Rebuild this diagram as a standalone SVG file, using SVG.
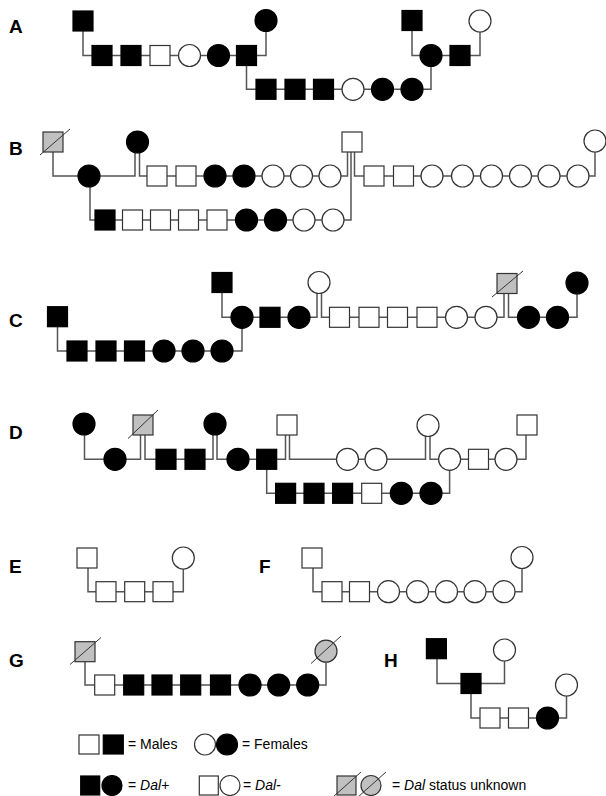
<svg xmlns="http://www.w3.org/2000/svg" width="606" height="796" viewBox="0 0 606 796">
<style>
.c{fill:none;stroke:#555;stroke-width:1.5}
.s{stroke:#333;stroke-width:1.2}
.k{fill:#000;stroke:#000}
.w{fill:#fff}
.g{fill:#c0c0c0}
.sl{stroke:#333;stroke-width:1}
.lbl{font-family:"Liberation Sans",Arial,sans-serif;font-weight:bold;font-size:19px;fill:#000}
.leg{font-family:"Liberation Sans",Arial,sans-serif;font-size:14px;fill:#000}
</style>
<rect width="606" height="796" fill="#fff"/>
<g id="labels">
<text class="lbl" x="9" y="33">A</text>
<text class="lbl" x="9" y="155">B</text>
<text class="lbl" x="9" y="327">C</text>
<text class="lbl" x="9" y="439">D</text>
<text class="lbl" x="9" y="573">E</text>
<text class="lbl" x="259" y="573">F</text>
<text class="lbl" x="9" y="667">G</text>
<text class="lbl" x="384" y="667">H</text>
</g>
<g id="connectors">
<path class="c" d="M83,31V55.5H266V31.5"/>
<path class="c" d="M246.5,65.5V89.3H431V55.5"/>
<path class="c" d="M412,30.5V55.5H480V32"/>
<path class="c" d="M53,152V176H135V153"/>
<path class="c" d="M139.5,153V176H347.5V152"/>
<path class="c" d="M90,187V220H351V152"/>
<path class="c" d="M354.5,152V176H595V152"/>
<path class="c" d="M57.5,326.7V351H242V317.3"/>
<path class="c" d="M222,292.5V317.3H317V293.5"/>
<path class="c" d="M321.5,293.5V317.3H504V293.5"/>
<path class="c" d="M508.5,293.5V317.3H577V294"/>
<path class="c" d="M84.5,435V459.3H140.5V435"/>
<path class="c" d="M145,435V459.3H213V435"/>
<path class="c" d="M217,435V459.3H285.5V435"/>
<path class="c" d="M289.5,435V459.3H425.5V436.5"/>
<path class="c" d="M430,436.5V459.3H526V435"/>
<path class="c" d="M266.7,469.3V493.3H449.6V470"/>
<path class="c" d="M88,568V591.7H183.3V569"/>
<path class="c" d="M313,568V591.7H522V568.5"/>
<path class="c" d="M85,661.7V685H326V662.2"/>
<path class="c" d="M437,658.7V683.5H504.5V661"/>
<path class="c" d="M471,693.5V718H566.5V696"/>
</g>
<g id="pedigree-A">
<g id="A1"><rect class="s k" x="73" y="11" width="20" height="20"/></g>
<g id="A2"><circle class="s k" cx="266" cy="20.5" r="11"/></g>
<g id="A3"><rect class="s k" x="402" y="10.5" width="20" height="20"/></g>
<g id="A4"><circle class="s w" cx="480" cy="21" r="11"/></g>
<g id="A5"><rect class="s k" x="92" y="45.5" width="20" height="20"/></g>
<g id="A6"><rect class="s k" x="121" y="45.5" width="20" height="20"/></g>
<g id="A7"><rect class="s w" x="150" y="45.5" width="20" height="20"/></g>
<g id="A8"><circle class="s w" cx="189.5" cy="55.5" r="11"/></g>
<g id="A9"><circle class="s k" cx="218.5" cy="55.5" r="11"/></g>
<g id="A10"><rect class="s k" x="236.5" y="45.5" width="20" height="20"/></g>
<g id="A11"><circle class="s k" cx="431" cy="55.5" r="11"/></g>
<g id="A12"><rect class="s k" x="450" y="45.5" width="20" height="20"/></g>
<g id="A13"><rect class="s k" x="256" y="79.3" width="20" height="20"/></g>
<g id="A14"><rect class="s k" x="285" y="79.3" width="20" height="20"/></g>
<g id="A15"><rect class="s k" x="313.5" y="79.3" width="20" height="20"/></g>
<g id="A16"><circle class="s w" cx="353" cy="89.3" r="11"/></g>
<g id="A17"><circle class="s k" cx="382.5" cy="89.3" r="11"/></g>
<g id="A18"><circle class="s k" cx="412" cy="89.3" r="11"/></g>
</g>
<g id="pedigree-B">
<g id="B1"><rect class="s g" x="43" y="132" width="20" height="20"/><line class="sl" x1="40" y1="155" x2="70" y2="129"/></g>
<g id="B2"><circle class="s k" cx="137.5" cy="142" r="11"/></g>
<g id="B3"><rect class="s w" x="342" y="132" width="20" height="20"/></g>
<g id="B4"><circle class="s w" cx="595" cy="141" r="11"/></g>
<g id="B5"><circle class="s k" cx="89" cy="176" r="11"/></g>
<g id="B6"><rect class="s w" x="147" y="166" width="20" height="20"/></g>
<g id="B7"><rect class="s w" x="176" y="166" width="20" height="20"/></g>
<g id="B8"><circle class="s k" cx="215" cy="176" r="11"/></g>
<g id="B9"><circle class="s k" cx="244" cy="176" r="11"/></g>
<g id="B10"><circle class="s w" cx="273" cy="176" r="11"/></g>
<g id="B11"><circle class="s w" cx="301.5" cy="176" r="11"/></g>
<g id="B12"><circle class="s w" cx="330" cy="176" r="11"/></g>
<g id="B13"><rect class="s w" x="364" y="166" width="20" height="20"/></g>
<g id="B14"><rect class="s w" x="393.5" y="166" width="20" height="20"/></g>
<g id="B15"><circle class="s w" cx="432" cy="176" r="11"/></g>
<g id="B16"><circle class="s w" cx="462.5" cy="176" r="11"/></g>
<g id="B17"><circle class="s w" cx="491.5" cy="176" r="11"/></g>
<g id="B18"><circle class="s w" cx="520.5" cy="176" r="11"/></g>
<g id="B19"><circle class="s w" cx="549" cy="176" r="11"/></g>
<g id="B20"><circle class="s w" cx="578" cy="176" r="11"/></g>
<g id="B21"><rect class="s k" x="95" y="210" width="20" height="20"/></g>
<g id="B22"><rect class="s w" x="122.5" y="210" width="20" height="20"/></g>
<g id="B23"><rect class="s w" x="150.5" y="210" width="20" height="20"/></g>
<g id="B24"><rect class="s w" x="178.5" y="210" width="20" height="20"/></g>
<g id="B25"><rect class="s w" x="207" y="210" width="20" height="20"/></g>
<g id="B26"><circle class="s k" cx="246.5" cy="220" r="11"/></g>
<g id="B27"><circle class="s k" cx="275.5" cy="220" r="11"/></g>
<g id="B28"><circle class="s w" cx="304" cy="220" r="11"/></g>
<g id="B29"><circle class="s w" cx="333" cy="220" r="11"/></g>
</g>
<g id="pedigree-C">
<g id="C1"><rect class="s k" x="47.5" y="306.7" width="20" height="20"/></g>
<g id="C2"><rect class="s k" x="212" y="272.5" width="20" height="20"/></g>
<g id="C3"><circle class="s w" cx="319" cy="282.5" r="11"/></g>
<g id="C4"><rect class="s g" x="497" y="273.5" width="20" height="20"/><line class="sl" x1="492" y1="297" x2="523" y2="271"/></g>
<g id="C5"><circle class="s k" cx="577" cy="283" r="11"/></g>
<g id="C6"><circle class="s k" cx="242" cy="317.3" r="11"/></g>
<g id="C7"><rect class="s k" x="260" y="307.3" width="20" height="20"/></g>
<g id="C8"><circle class="s k" cx="299" cy="317.3" r="11"/></g>
<g id="C9"><rect class="s w" x="329.5" y="307.3" width="20" height="20"/></g>
<g id="C10"><rect class="s w" x="359" y="307.3" width="20" height="20"/></g>
<g id="C11"><rect class="s w" x="387.5" y="307.3" width="20" height="20"/></g>
<g id="C12"><rect class="s w" x="417" y="307.3" width="20" height="20"/></g>
<g id="C13"><circle class="s w" cx="456.5" cy="317.3" r="11"/></g>
<g id="C14"><circle class="s w" cx="486" cy="317.3" r="11"/></g>
<g id="C15"><circle class="s k" cx="528.5" cy="317.3" r="11"/></g>
<g id="C16"><circle class="s k" cx="557.5" cy="317.3" r="11"/></g>
<g id="C17"><rect class="s k" x="67" y="341" width="20" height="20"/></g>
<g id="C18"><rect class="s k" x="96" y="341" width="20" height="20"/></g>
<g id="C19"><rect class="s k" x="124.5" y="341" width="20" height="20"/></g>
<g id="C20"><circle class="s k" cx="164" cy="351" r="11"/></g>
<g id="C21"><circle class="s k" cx="193" cy="351" r="11"/></g>
<g id="C22"><circle class="s k" cx="222" cy="351" r="11"/></g>
</g>
<g id="pedigree-D">
<g id="D1"><circle class="s k" cx="84" cy="424" r="11"/></g>
<g id="D2"><rect class="s g" x="133" y="415" width="20" height="20"/><line class="sl" x1="128" y1="438.5" x2="158" y2="410"/></g>
<g id="D3"><circle class="s k" cx="215" cy="424" r="11"/></g>
<g id="D4"><rect class="s w" x="277" y="415" width="20" height="20"/></g>
<g id="D5"><circle class="s w" cx="428" cy="425.5" r="11"/></g>
<g id="D6"><rect class="s w" x="517" y="415" width="20" height="20"/></g>
<g id="D7"><circle class="s k" cx="115" cy="459.3" r="11"/></g>
<g id="D8"><rect class="s k" x="156" y="449.3" width="20" height="20"/></g>
<g id="D9"><rect class="s k" x="185" y="449.3" width="20" height="20"/></g>
<g id="D10"><circle class="s k" cx="238" cy="459.3" r="11"/></g>
<g id="D11"><rect class="s k" x="256.7" y="449.3" width="20" height="20"/></g>
<g id="D12"><circle class="s w" cx="347.5" cy="459.3" r="11"/></g>
<g id="D13"><circle class="s w" cx="376" cy="459.3" r="11"/></g>
<g id="D14"><circle class="s w" cx="449.6" cy="459.3" r="11"/></g>
<g id="D15"><rect class="s w" x="468.5" y="449.3" width="20" height="20"/></g>
<g id="D16"><circle class="s w" cx="506" cy="459.3" r="11"/></g>
<g id="D17"><rect class="s k" x="275.6" y="483.3" width="20" height="20"/></g>
<g id="D18"><rect class="s k" x="304" y="483.3" width="20" height="20"/></g>
<g id="D19"><rect class="s k" x="332.6" y="483.3" width="20" height="20"/></g>
<g id="D20"><rect class="s w" x="361.7" y="483.3" width="20" height="20"/></g>
<g id="D21"><circle class="s k" cx="401.3" cy="493.3" r="11"/></g>
<g id="D22"><circle class="s k" cx="431" cy="493.3" r="11"/></g>
</g>
<g id="pedigree-E">
<g id="E1"><rect class="s w" x="77" y="548" width="20" height="20"/></g>
<g id="E2"><circle class="s w" cx="183.3" cy="558" r="11"/></g>
<g id="E3"><rect class="s w" x="96" y="581.7" width="20" height="20"/></g>
<g id="E4"><rect class="s w" x="124.7" y="581.7" width="20" height="20"/></g>
<g id="E5"><rect class="s w" x="153" y="581.7" width="20" height="20"/></g>
</g>
<g id="pedigree-F">
<g id="F1"><rect class="s w" x="302" y="548" width="20" height="20"/></g>
<g id="F2"><circle class="s w" cx="522" cy="557.5" r="11"/></g>
<g id="F3"><rect class="s w" x="322" y="581.7" width="20" height="20"/></g>
<g id="F4"><rect class="s w" x="349.5" y="581.7" width="20" height="20"/></g>
<g id="F5"><circle class="s w" cx="388.5" cy="591.7" r="11"/></g>
<g id="F6"><circle class="s w" cx="417.5" cy="591.7" r="11"/></g>
<g id="F7"><circle class="s w" cx="446.5" cy="591.7" r="11"/></g>
<g id="F8"><circle class="s w" cx="475" cy="591.7" r="11"/></g>
<g id="F9"><circle class="s w" cx="504" cy="591.7" r="11"/></g>
</g>
<g id="pedigree-G">
<g id="G1"><rect class="s g" x="75" y="641.7" width="20" height="20"/><line class="sl" x1="70" y1="664.5" x2="101" y2="637.5"/></g>
<g id="G2"><circle class="s g" cx="326" cy="651.2" r="11"/><line class="sl" x1="311" y1="663.5" x2="341" y2="636"/></g>
<g id="G3"><rect class="s w" x="94.7" y="675" width="20" height="20"/></g>
<g id="G4"><rect class="s k" x="123.7" y="675" width="20" height="20"/></g>
<g id="G5"><rect class="s k" x="152" y="675" width="20" height="20"/></g>
<g id="G6"><rect class="s k" x="180.7" y="675" width="20" height="20"/></g>
<g id="G7"><rect class="s k" x="210.5" y="675" width="20" height="20"/></g>
<g id="G8"><circle class="s k" cx="250" cy="685" r="11"/></g>
<g id="G9"><circle class="s k" cx="278.7" cy="685" r="11"/></g>
<g id="G10"><circle class="s k" cx="307.7" cy="685" r="11"/></g>
</g>
<g id="pedigree-H">
<g id="H1"><rect class="s k" x="426.4" y="638.7" width="20" height="20"/></g>
<g id="H2"><circle class="s w" cx="504.5" cy="650" r="11"/></g>
<g id="H3"><rect class="s k" x="461" y="673.5" width="20" height="20"/></g>
<g id="H4"><circle class="s w" cx="566.5" cy="685" r="11"/></g>
<g id="H5"><rect class="s w" x="480" y="708" width="20" height="20"/></g>
<g id="H6"><rect class="s w" x="508.5" y="708" width="20" height="20"/></g>
<g id="H7"><circle class="s k" cx="547.5" cy="718" r="11"/></g>
</g>
<g id="legend">
<rect class="s w" x="79" y="735" width="20" height="19"/>
<rect class="s k" x="103.3" y="735" width="20" height="19"/>
<text class="leg" x="128" y="749">= Males</text>
<circle class="s w" cx="205" cy="744.5" r="10.5"/>
<circle class="s k" cx="227" cy="744.5" r="10.5"/>
<text class="leg" x="242" y="749">= Females</text>
<rect class="s k" x="80.7" y="776" width="19" height="19"/>
<circle class="s k" cx="112" cy="785.5" r="10"/>
<text class="leg" x="128" y="790">= <tspan font-style="italic">Dal+</tspan></text>
<rect class="s w" x="199.3" y="776" width="19" height="19"/>
<circle class="s w" cx="230" cy="785.5" r="10"/>
<text class="leg" x="243" y="790">= <tspan font-style="italic">Dal-</tspan></text>
<rect class="s g" x="337" y="776" width="19" height="19"/>
<line class="sl" x1="333" y1="797" x2="361" y2="772"/>
<circle class="s g" cx="371" cy="785.5" r="10"/>
<line class="sl" x1="358" y1="797" x2="386" y2="772"/>
<text class="leg" x="392" y="790">= <tspan font-style="italic">Dal</tspan> status unknown</text>
</g>
</svg>
